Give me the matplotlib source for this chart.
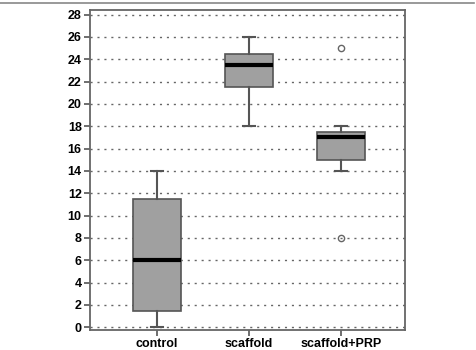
import matplotlib
matplotlib.use("Agg")
from matplotlib import pyplot as plt
from matplotlib.lines import Line2D

groups = ['control', 'scaffold', 'scaffold+PRP']
whisker_low = [0, 18, 14]
q1 = [1.5, 21.5, 15]
medians = [6, 23.5, 17]
q3 = [11.5, 24.5, 17.5]
whisker_high = [14, 26, 18]
outliers = [[], [], [25, 8]]
yticks = list(range(0, 29, 2))

plt.rcParams['font.family'] = ['Liberation Sans', 'DejaVu Sans']

fig = plt.figure(figsize=(4.76, 3.5), dpi=100)
ax = fig.add_axes([0.189, 0.057, 0.662, 0.914])

stats = []
for i, name in enumerate(groups):
    stats.append(dict(label=name, whislo=whisker_low[i], q1=q1[i], med=medians[i],
                      q3=q3[i], whishi=whisker_high[i], fliers=outliers[i]))

edge = '#555555'
ax.bxp(stats, positions=[1, 2, 3], widths=0.52, patch_artist=True,
       capwidths=0.13,
       boxprops=dict(facecolor='#a0a0a0', edgecolor=edge, linewidth=1.2),
       medianprops=dict(color='black', linewidth=3, solid_capstyle='butt'),
       whiskerprops=dict(color=edge, linewidth=1.5),
       capprops=dict(color=edge, linewidth=1.5),
       flierprops=dict(marker='o', markersize=4.5, markerfacecolor='none',
                       markeredgecolor='#666666', markeredgewidth=1),
       zorder=3)

ax.set_ylim(-0.25, 28.4)
ax.set_xlim(0.27, 3.7)
ax.set_yticks(yticks)
ax.set_yticklabels([str(v) for v in yticks], fontsize=9, fontweight='bold')
ax.set_xticks([1, 2, 3])
ax.set_xticklabels(groups, fontsize=9, fontweight='bold')
ax.tick_params(axis='both', length=4, width=1.2, color=edge, pad=2)

for v in yticks:
    ax.axhline(v, color='#666666', linewidth=1, linestyle=(0, (1.5, 3.5)), zorder=1)

for s in ax.spines.values():
    s.set_color('#666666')
    s.set_linewidth(1.3)

fig.add_artist(Line2D([0, 0.995], [0.991, 0.991], transform=fig.transFigure,
                      color='#888888', linewidth=1.2))

fig.savefig('out.png', dpi=100)
